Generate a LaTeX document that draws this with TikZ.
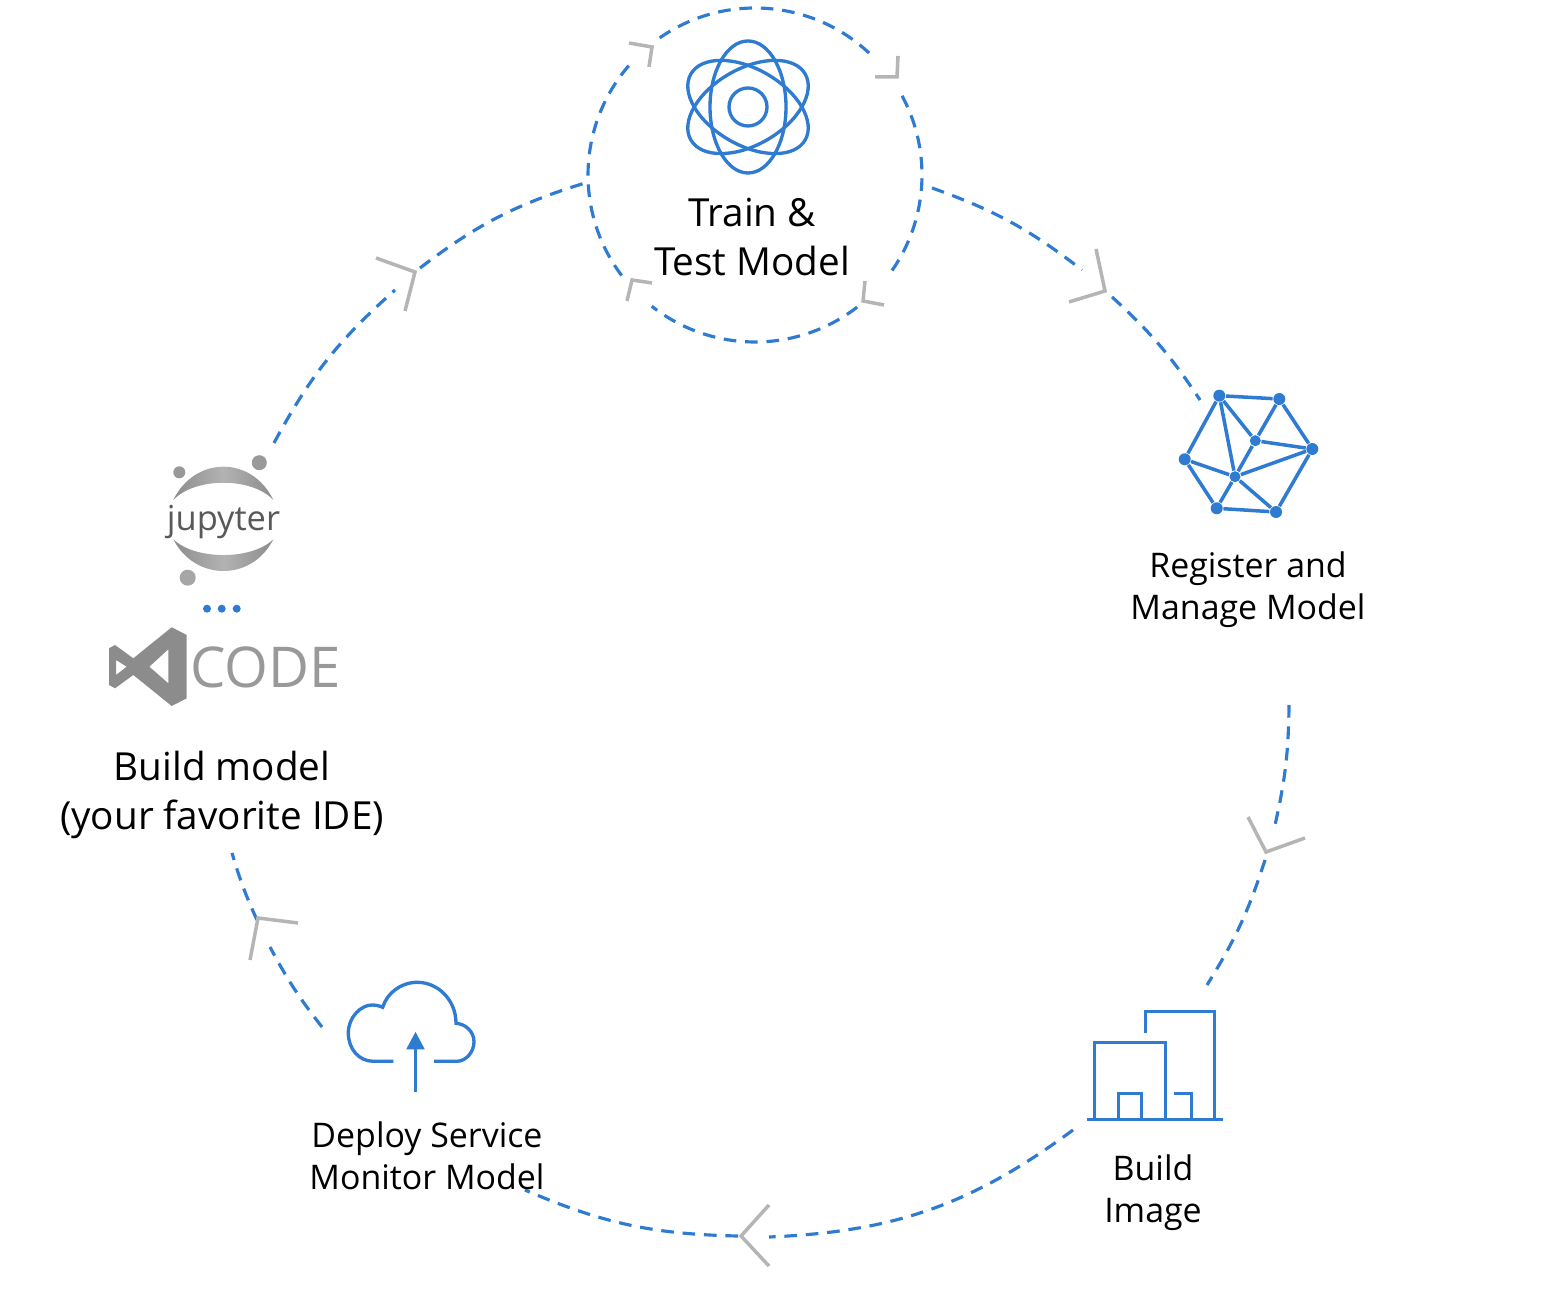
\documentclass[tikz,border=0pt]{standalone}
\usepackage{fontspec}
\setmainfont{Open Sans}
\usepackage{tikz}
\usetikzlibrary{arrows.meta}
\definecolor{flowblue}{HTML}{2E7BD1}
\definecolor{tipgray}{HTML}{B5B5B5}
\tikzset{
  flow/.style={flowblue,line width=0.9pt,dash pattern=on 3.6pt off 2.5pt},
  tipmark/.style={tipgray,line width=1pt},
  iconline/.style={flowblue,line width=0.95pt},
  meshedge/.style={flowblue,line width=1pt},
  meshdot/.style={circle,fill=flowblue,inner sep=0pt,minimum size=0.12cm},
  bigtext/.style={align=center,font=\fontsize{11}{14.2}\selectfont},
  smalltext/.style={align=center,font=\fontsize{9.65}{11.95}\selectfont},
  crescent/.style={left color=gray!90!white,right color=gray!90!white,middle color=gray!60!white}
}

\begin{document}
\begin{tikzpicture}
    \useasboundingbox (0, 0) rectangle (15.6, 13.02);
\coordinate (ring) at (7.55, 11.27); % Train.ring
\draw[flow] (ring) ++(124.8:1.67) arc(124.8:45:1.67); % Train.arc.0
\draw[flow] (ring) ++(28.3:1.67) arc(28.3:-37.9:1.67); % Train.arc.1
\draw[flow] (ring) ++(-52.3:1.67) arc(-52.3:-128.2:1.67); % Train.arc.2
\draw[flow] (ring) ++(217:1.67) arc(217:138.8:1.67); % Train.arc.3
\draw[tipmark] (6.29, 12.59) -- (6.52, 12.55) -- (6.49, 12.35); % Train.tip.0
\draw[tipmark] (8.98, 12.46) -- (8.97, 12.25) -- (8.75, 12.25); % Train.tip.1
\draw[tipmark] (8.65, 10.21) -- (8.63, 10.01) -- (8.84, 9.97); % Train.tip.2
\draw[tipmark] (6.52, 10.19) -- (6.32, 10.22) -- (6.27, 10.01); % Train.tip.3
\draw[iconline] (7.48, 11.95) ellipse (0.38 and 0.66); % Atom.0
\draw[iconline,rotate around={60:(7.48, 11.95)}] (7.48, 11.95) ellipse (0.38 and 0.66); % Atom.1
\draw[iconline,rotate around={-60:(7.48, 11.95)}] (7.48, 11.95) ellipse (0.38 and 0.66); % Atom.2
\draw[iconline] (7.48, 11.95) circle (0.19); % Atom.3
\node[bigtext] (trainlabel) at (7.52, 10.65) {Train \&\\Test Model};
\coordinate (regA) at (9.32, 11.14);
\coordinate (regB) at (10.82, 10.32);
\coordinate (regC) at (11.12, 10.05);
\coordinate (regD) at (12.00, 9.02);
\draw[flow] (regA) to[bend left=9] (regB); % TrainToRegister
\draw[flow] (regC) to[bend left=7] (regD); % TrainToRegister
\draw[tipmark] (10.96, 10.53) -- (11.05, 10.11) -- (10.69, 10.00); % TrainToRegister
\node[meshdot] (n1) at (12.193, 9.063) {};
\node[meshdot] (n2) at (12.793, 9.03) {};
\node[meshdot] (n3) at (13.123, 8.53) {};
\node[meshdot] (n4) at (12.76, 7.90) {};
\node[meshdot] (n5) at (12.167, 7.937) {};
\node[meshdot] (n6) at (11.847, 8.427) {};
\node[meshdot,minimum size=0.11cm] (c1) at (12.553, 8.613) {};
\node[meshdot,minimum size=0.11cm] (c2) at (12.35, 8.253) {};
\draw[meshedge] (n1) -- (n2) -- (n3) -- (n4) -- (n5) -- (n6) -- (n1); % Mesh.rim
\draw[meshedge] (n1) -- (c1); % Mesh.0
\draw[meshedge] (n2) -- (c1); % Mesh.1
\draw[meshedge] (n3) -- (c1); % Mesh.2
\draw[meshedge] (c1) -- (c2); % Mesh.3
\draw[meshedge] (n1) -- (c2); % Mesh.4
\draw[meshedge] (n3) -- (c2); % Mesh.5
\draw[meshedge] (n4) -- (c2); % Mesh.6
\draw[meshedge] (n5) -- (c2); % Mesh.7
\draw[meshedge] (n6) -- (c2); % Mesh.8
\node[smalltext] (registerlabel) at (12.48, 7.125) {Register and\\Manage Model};
\coordinate (imgA) at (12.89, 5.97);
\coordinate (imgB) at (12.75, 4.77);
\coordinate (imgC) at (12.65, 4.42);
\coordinate (imgD) at (12.07, 3.17);
\draw[flow] (imgA) to[bend left=6] (imgB); % RegisterToImage
\draw[flow] (imgC) to[bend left=7] (imgD); % RegisterToImage
\draw[tipmark] (12.48, 4.85) -- (12.66, 4.50) -- (13.05, 4.64); % RegisterToImage
\draw[iconline] (10.867, 1.827) -- (12.227, 1.827); % Building.0
\draw[iconline] (11.453, 2.687) -- (11.453, 2.907) -- (12.147, 2.907) -- (12.147, 1.827); % Building.1
\draw[iconline] (10.943, 1.827) -- (10.943, 2.597) -- (11.653, 2.597) -- (11.653, 1.827); % Building.2
\draw[iconline] (11.183, 1.827) -- (11.183, 2.087) -- (11.417, 2.087) -- (11.417, 1.827); % Building.3
\draw[iconline] (11.743, 2.087) -- (11.917, 2.087) -- (11.917, 1.827); % Building.4
\node[smalltext] (imagelabel) at (11.53, 1.095) {Build\\Image};
\coordinate (depA) at (10.73, 1.72);
\coordinate (depB) at (7.69, 0.65);
\coordinate (depC) at (7.38, 0.66);
\coordinate (depD) at (5.25, 1.12);
\draw[flow] (depA) to[bend left=17] (depB); % ImageToDeploy
\draw[flow] (depC) to[bend left=11] (depD); % ImageToDeploy
\draw[tipmark] (7.69, 0.97) -- (7.41, 0.66) -- (7.69, 0.36); % ImageToDeploy
\draw[iconline] (3.933, 2.407) -- (3.733, 2.407) .. controls (3.59, 2.407) and (3.483, 2.53) .. (3.483, 2.69) .. controls (3.483, 2.85) and (3.61, 2.97) .. (3.72, 2.97) .. controls (3.76, 2.97) and (3.80, 2.96) .. (3.827, 2.947) .. controls (3.87, 3.09) and (4.01, 3.197) .. (4.173, 3.197) .. controls (4.38, 3.197) and (4.56, 3.02) .. (4.56, 2.787) .. controls (4.66, 2.78) and (4.74, 2.70) .. (4.74, 2.603) .. controls (4.74, 2.50) and (4.66, 2.407) .. (4.567, 2.407) -- (4.34, 2.407); % Cloud
\coordinate (upA) at (4.155, 2.10);
\coordinate (upB) at (4.155, 2.703);
\draw[iconline,-{Triangle[length=5pt,width=5pt]}] (upA) -- (upB); % Cloud.arrow
\node[smalltext] (deploylabel) at (4.27, 1.46) {Deploy Service\\Monitor Model};
\coordinate (ideA) at (3.22, 2.75);
\coordinate (ideB) at (2.70, 3.55);
\coordinate (ideC) at (2.57, 3.82);
\coordinate (ideD) at (2.32, 4.49);
\draw[flow] (ideA) to[bend left=5] (ideB); % DeployToBuild
\draw[flow] (ideC) to[bend left=4] (ideD); % DeployToBuild
\draw[tipmark] (2.98, 3.79) -- (2.58, 3.84) -- (2.50, 3.42); % DeployToBuild
\node[bigtext] (buildlabel) at (2.22, 5.07) {Build model\\(your favorite IDE)};
\fill[gray!90!white,even odd rule] (1.09, 6.537) -- (1.15, 6.57) -- (1.333, 6.437) -- (1.717, 6.747) -- (1.867, 6.67) -- (1.867, 6.037) -- (1.717, 5.96) -- (1.333, 6.27) -- (1.15, 6.137) -- (1.09, 6.17) -- cycle (1.16, 6.42) -- (1.267, 6.353) -- (1.16, 6.27) -- cycle (1.683, 6.527) -- (1.493, 6.353) -- (1.683, 6.187) -- cycle; % VsCode.logo
\node[text=gray!80!white,font=\fontsize{16}{18}\selectfont] (codelabel) at (2.655, 6.342) {CODE};
\fill[flowblue] (2.07, 6.933) circle (0.04); % Dots.0
\fill[flowblue] (2.217, 6.933) circle (0.04); % Dots.1
\fill[flowblue] (2.367, 6.933) circle (0.04); % Dots.2
\shade[crescent] (1.733, 8.02) .. controls (1.95, 8.464) and (2.52, 8.464) .. (2.733, 8.02) .. controls (2.52, 8.25) and (1.95, 8.25) .. cycle; % Jupyter.top
\shade[crescent] (1.733, 7.627) .. controls (1.95, 7.204) and (2.52, 7.204) .. (2.733, 7.627) .. controls (2.52, 7.417) and (1.95, 7.417) .. cycle; % Jupyter.bottom
\fill[gray!120!black] (1.793, 8.297) circle (0.06); % Jupyter.dot.0
\fill[gray!120!black] (2.593, 8.393) circle (0.075); % Jupyter.dot.1
\fill[gray!70!white] (1.877, 7.243) circle (0.08); % Jupyter.dot.2
\node[text=gray!70!black,font=\fontsize{9.8}{10}\selectfont] (jupyterlabel) at (2.235, 7.80) {jupyter};
\coordinate (trainA) at (2.74, 8.59);
\coordinate (trainB) at (3.95, 10.12);
\coordinate (trainC) at (4.20, 10.34);
\coordinate (trainD) at (5.85, 11.19);
\draw[flow] (trainA) to[bend left=10] (trainB); % BuildToTrain
\draw[flow] (trainC) to[bend left=10] (trainD); % BuildToTrain
\draw[tipmark] (3.76, 10.44) -- (4.15, 10.30) -- (4.05, 9.91); % BuildToTrain
    \end{tikzpicture}
\end{document}
